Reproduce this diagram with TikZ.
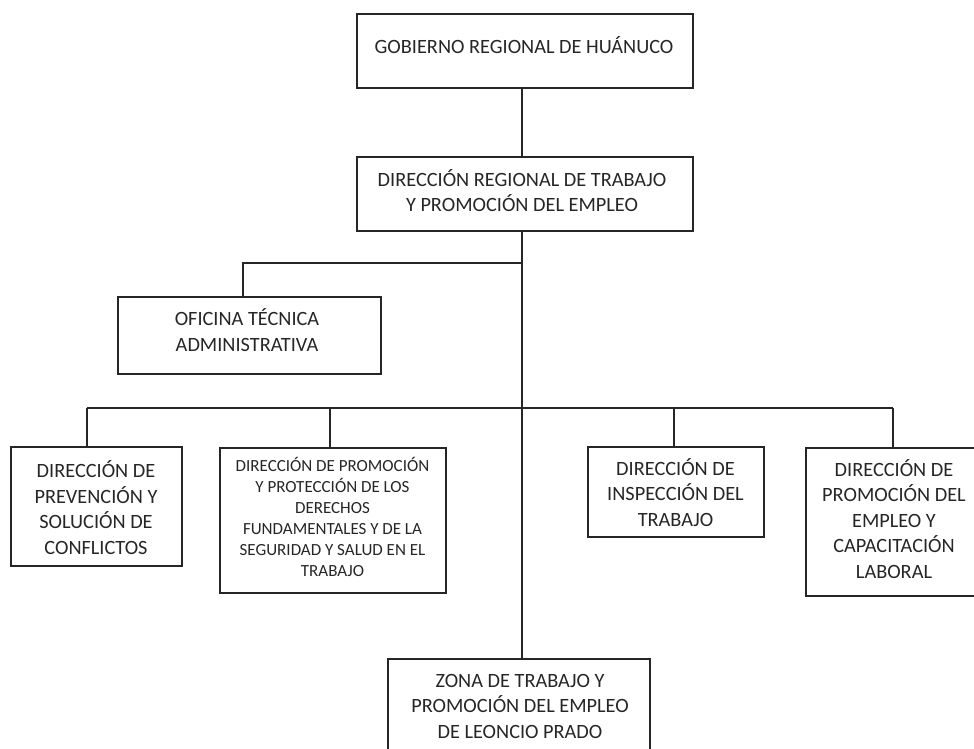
\documentclass[tikz,border=0pt]{standalone}
\usepackage{fontspec}
\setmainfont{Carlito}
\begin{document}
\begin{tikzpicture}[x=1pt,y=-1pt,
  box/.style={draw=black!85, line width=1.7pt, rectangle, inner sep=0pt},
  txt/.style={align=center, inner sep=0pt, text=black!85, font=\fontsize{20.3}{25.5}\selectfont},
  smalltxt/.style={align=center, inner sep=0pt, text=black!85, font=\fontsize{17}{21}\selectfont},
  conn/.style={draw=black!85, line width=1.7pt}]
\useasboundingbox (0,0) rectangle (974,749);
\clip (0,0) rectangle (974,749);
% boxes
\node[box, minimum width=336pt, minimum height=74pt] (gob) at (525,51) {};
\node[box, minimum width=336pt, minimum height=74pt] (dir) at (525,194) {};
\node[box, minimum width=263pt, minimum height=77pt] (ofi) at (249.5,335.5) {};
\node[box, minimum width=171pt, minimum height=119pt] (prev) at (96.5,506.5) {};
\node[box, minimum width=226pt, minimum height=145pt] (der) at (333,520.5) {};
\node[box, minimum width=176pt, minimum height=90pt] (insp) at (676,492) {};
\node[box, minimum width=176pt, minimum height=148pt] (prom) at (894,522) {};
\node[box, minimum width=262pt, minimum height=96pt] (zona) at (519,707) {};
% texts
\node[txt] (gobt) at (524,45) {GOBIERNO REGIONAL DE HUÁNUCO};
\node[txt] (dirt) at (522,190.5) {DIRECCIÓN REGIONAL DE TRABAJO\\Y PROMOCIÓN DEL EMPLEO};
\node[txt] (ofit) at (247,330) {OFICINA TÉCNICA\\ADMINISTRATIVA};
\node[txt] (prevt) at (96,507.5) {DIRECCIÓN DE\\PREVENCIÓN Y\\SOLUCIÓN DE\\CONFLICTOS};
\node[smalltxt] (dert) at (332.5,517) {DIRECCIÓN DE PROMOCIÓN\\Y PROTECCIÓN DE LOS\\DERECHOS\\FUNDAMENTALES Y DE LA\\SEGURIDAD Y SALUD EN EL\\TRABAJO};
\node[txt] (inspt) at (675.5,492.5) {DIRECCIÓN DE\\INSPECCIÓN DEL\\TRABAJO};
\node[txt] (promt) at (894,519) {DIRECCIÓN DE\\PROMOCIÓN DEL\\EMPLEO Y\\CAPACITACIÓN\\LABORAL};
\node[txt] (zonat) at (520,706) {ZONA DE TRABAJO Y\\PROMOCIÓN DEL EMPLEO\\DE LEONCIO PRADO};
% connectors
\coordinate (spine) at (522,0);
\coordinate (jo) at (522,263);
\coordinate (ko) at (243,263);
\coordinate (bl) at (87,408);
\coordinate (b2) at (330,408);
\coordinate (b3) at (674,408);
\coordinate (br) at (893,408);
\draw[conn] (gob.south -| spine) -- (dir.north -| spine);
\draw[conn] (dir.south -| spine) -- (zona.north -| spine);
\draw[conn] (jo) -- (ko) -- (ko |- ofi.north);
\draw[conn] (bl) -- (br);
\draw[conn] (bl) -- (bl |- prev.north);
\draw[conn] (b2) -- (b2 |- der.north);
\draw[conn] (b3) -- (b3 |- insp.north);
\draw[conn] (br) -- (br |- prom.north);
\end{tikzpicture}
\end{document}
